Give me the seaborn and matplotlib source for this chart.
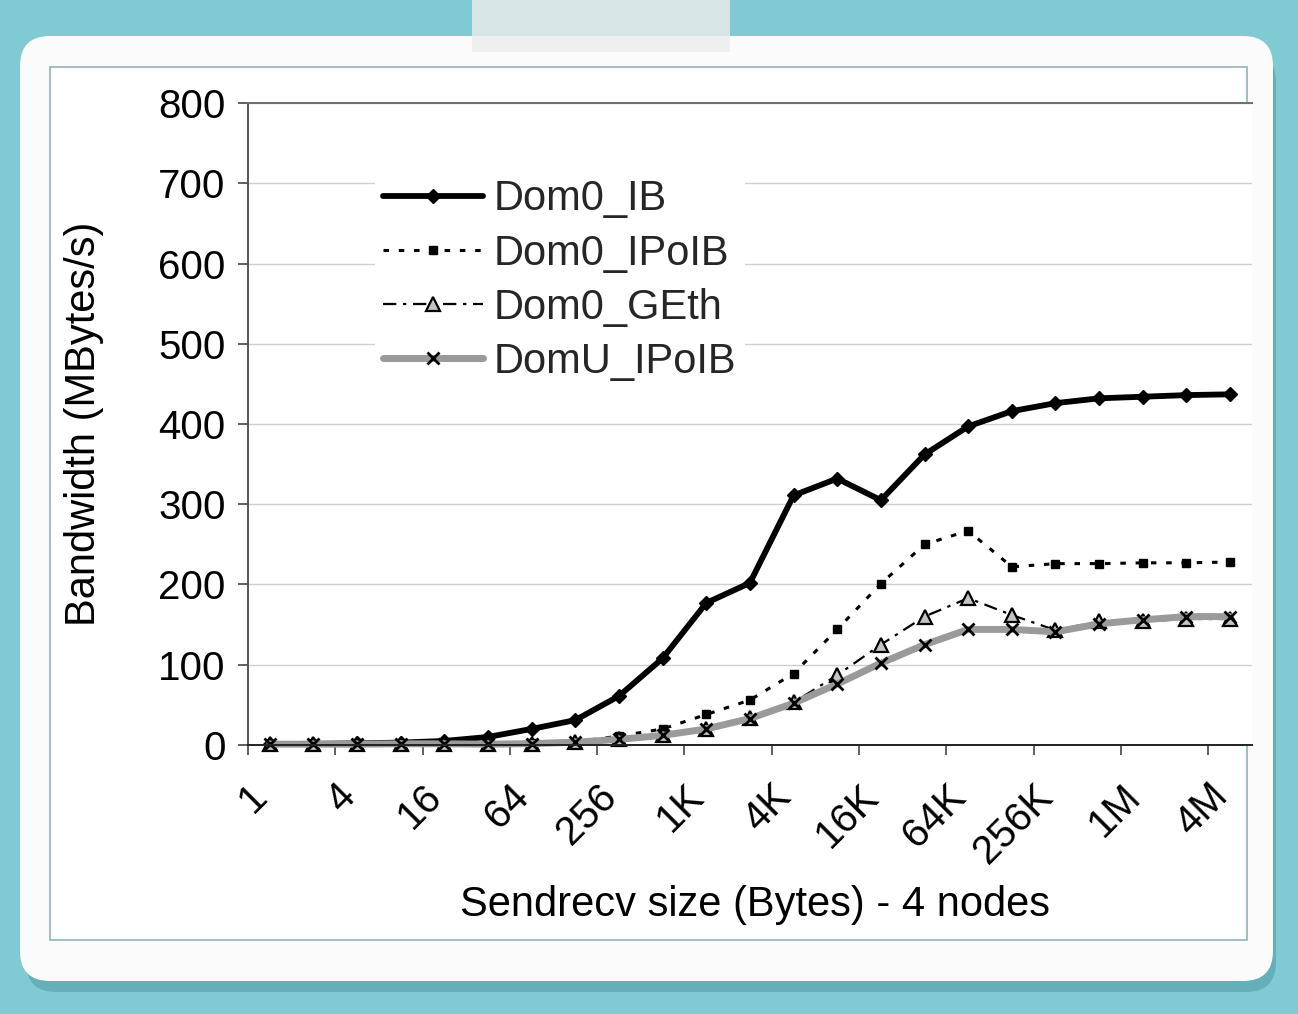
import numpy as np
import pandas as pd
import matplotlib
matplotlib.use("Agg")
import matplotlib.pyplot as plt
import seaborn as sns
from matplotlib.patches import FancyBboxPatch, Rectangle

# ---------------- data ----------------
sizes = ["1", "2", "4", "8", "16", "32", "64", "128", "256", "512",
         "1K", "2K", "4K", "8K", "16K", "32K", "64K", "128K", "256K", "512K",
         "1M", "2M", "4M"]
tick_labels = ["1", "4", "16", "64", "256", "1K", "4K", "16K", "64K", "256K", "1M", "4M"]

dom0_ib = [1, 1.5, 2, 3, 5, 10, 20, 31, 61, 108, 177, 202, 311, 332, 305,
           362, 397, 416, 426, 432, 434, 436, 437]
dom0_ipoib = [1, 1, 1, 1.5, 1.5, 1.5, 2, 4, 11, 20, 38, 56, 89, 144, 201,
              250, 267, 222, 226, 226, 227, 227, 228]
dom0_geth = [1, 1, 1, 1.5, 1.5, 1, 1.7, 4, 8, 12, 20, 34, 53, 87, 125,
             160, 183, 162, 143, 154, 154, 157, 157]
domu_ipoib = [1, 1, 1, 1.5, 1.5, 1, 1.7, 3.5, 7, 12, 20, 33, 52, 76, 102,
              125, 144, 144, 141, 151, 156, 160, 160]

series_names = ["Dom0_IB", "Dom0_IPoIB", "Dom0_GEth", "DomU_IPoIB"]
series_values = [dom0_ib, dom0_ipoib, dom0_geth, domu_ipoib]

# ---------------- style ----------------
sns.set_theme(style="white")
plt.rcParams["font.family"] = ["Liberation Sans", "DejaVu Sans"]

W, H = 12.98, 10.14
fig = plt.figure(figsize=(W, H), dpi=100)
fig.patch.set_facecolor("#80cbd3")

# card shadow, card, inner frame, tape
shadow = FancyBboxPatch((0.26, 0.22), 12.50, 9.40,
                        boxstyle="round,pad=0,rounding_size=0.3",
                        transform=fig.dpi_scale_trans, facecolor="#4f9aa2",
                        edgecolor="none", alpha=0.55, zorder=0)
card = FancyBboxPatch((0.20, 0.33), 12.53, 9.45,
                      boxstyle="round,pad=0,rounding_size=0.3",
                      transform=fig.dpi_scale_trans, facecolor="#fbfbfb",
                      edgecolor="none", zorder=1)
frame = Rectangle((0.50, 0.74), 11.97, 8.73, transform=fig.dpi_scale_trans,
                  facecolor="white", edgecolor="#8fb5b9", lw=1.2, zorder=2)
tape = Rectangle((4.72, 9.62), 2.58, 0.52, transform=fig.dpi_scale_trans,
                 facecolor="#ececec", edgecolor="none", alpha=0.8, zorder=3)
for p in (shadow, card, frame, tape):
    fig.patches.append(p)

ax = fig.add_axes([0.191, 0.2653, 0.7735, 0.6331])
ax.set_facecolor("white")
ax.set_zorder(5)

x = np.arange(len(sizes))
styles = {
    "Dom0_IB": dict(color="black", lw=4.2, marker="D", ms=7, mfc="black",
                    mec="black", mew=1, linestyle="-"),
    "Dom0_IPoIB": dict(color="black", lw=2.2, marker="s", ms=6, mfc="black",
                       mec="black", mew=1, linestyle=(0, (1.8, 3.2))),
    "Dom0_GEth": dict(color="black", lw=1.6, marker="^", ms=10, mfc="#c4c4c4",
                      mec="black", mew=1.6, linestyle=(0, (6, 3, 1.5, 3))),
    "DomU_IPoIB": dict(color="#9a9a9a", lw=5, marker="x", ms=9, mfc="black",
                       mec="black", mew=2, linestyle="-"),
}
for name, vals in zip(series_names, series_values):
    sns.lineplot(x=x, y=vals, ax=ax, label=name, clip_on=False, **styles[name])

# axes
ax.set_xlim(-0.5, len(sizes) - 0.5)
ax.set_ylim(0, 800)
ax.set_yticks(np.arange(0, 801, 100))
ax.set_xticks(np.arange(-0.5, len(sizes) - 1, 2))
ax.set_xticklabels(tick_labels, rotation=45, ha="right", va="top",
                   rotation_mode="anchor", fontsize=29)
ax.tick_params(axis="y", left=True, direction="out", length=7, width=1.2,
               color="#444444", pad=9, labelsize=29, labelcolor="black")
ax.tick_params(axis="x", bottom=True, direction="out", length=7, width=1.2,
               color="#444444", pad=16, labelcolor="black")

ax.yaxis.grid(True, color="#cfcfcf", lw=1)
ax.xaxis.grid(False)
ax.set_axisbelow(True)
ax.spines["right"].set_visible(False)
ax.spines["top"].set_color("#6e6e6e")
ax.spines["top"].set_linewidth(1.4)
ax.spines["left"].set_color("#555555")
ax.spines["left"].set_linewidth(1.4)
ax.spines["bottom"].set_color("#222222")
ax.spines["bottom"].set_linewidth(1.4)

ax.set_ylabel("Bandwidth (MBytes/s)", fontsize=30, color="black")
ax.yaxis.set_label_coords(-0.143, 0.5)
ax.set_xlabel("Sendrecv size (Bytes) - 4 nodes", fontsize=30, color="black")
ax.xaxis.set_label_coords(0.505, -0.218)

leg = ax.legend(loc="upper left", bbox_to_anchor=(0.1265, 0.894),
                fontsize=30, frameon=True, facecolor="white", edgecolor="none",
                framealpha=1, borderpad=0.2, borderaxespad=0,
                handlelength=2.4, handletextpad=0.25, labelspacing=0.34,
                numpoints=1)
leg.get_frame().set_linewidth(0)

fig.savefig("out.png", dpi=100, facecolor=fig.get_facecolor())
